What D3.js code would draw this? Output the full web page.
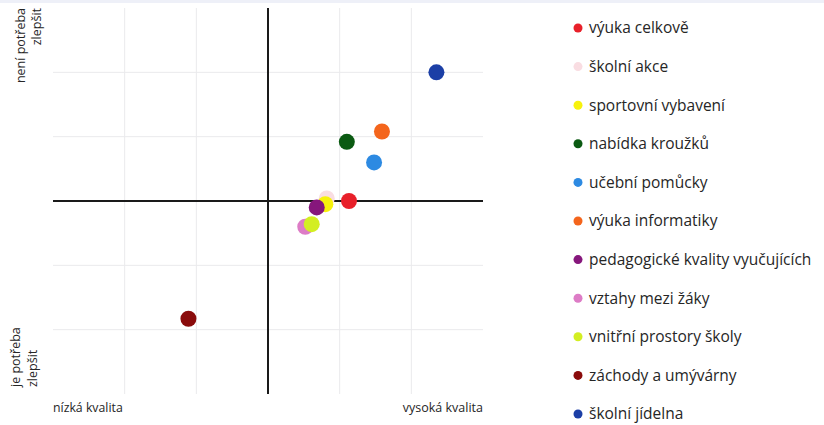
<!DOCTYPE html>
<html>
<head>
<meta charset="utf-8">
<script src="https://cdn.jsdelivr.net/npm/d3@7"></script>
<style>
	body { margin: 0; background: #fff; font-family: "Open Sans", sans-serif; }
	svg text { fill: #262626; }
</style>
</head>
<body>
<div id="chart"></div>
<script>
// data (x = kvalita, y = potřeba zlepšit)
const categories = [
	"výuka celkově",
	"školní akce",
	"sportovní vybavení",
	"nabídka kroužků",
	"učební pomůcky",
	"výuka informatiky",
	"pedagogické kvality vyučujících",
	"vztahy mezi žáky",
	"vnitřní prostory školy",
	"záchody a umývárny",
	"školní jídelna",
];
const xValues = [1.13, 0.82, 0.8, 1.1, 1.48, 1.59, 0.68, 0.52, 0.61, -1.11, 2.35];
const yValues = [0.0, 0.04, -0.05, 0.92, 0.6, 1.08, -0.1, -0.4, -0.36, -1.83, 2.0];
const colors = [
	"#e8202a",
	"#f9dde2",
	"#f7f20c",
	"#0b5a12",
	"#2d8ae2",
	"#f4651c",
	"#86177c",
	"#dd7cc6",
	"#d3ee22",
	"#8a0b0b",
	"#1c3fa6",
];
const gridTicks = [-3, -2, -1, 0, 1, 2, 3];

const width = 824;
const height = 425;

const svg = d3
	.select("#chart")
	.append("svg")
	.attr("width", width)
	.attr("height", height);

// faint tinted strip along the top edge of the scan
svg
	.append("rect")
	.attr("width", width)
	.attr("height", 3)
	.attr("fill", "#eef0f8");

const x = d3.scaleLinear().domain([-3, 3]).range([53, 483]);
const y = d3.scaleLinear().domain([-3, 3]).range([394, 8]);

const inner = gridTicks.filter((d) => d !== 0 && Math.abs(d) < 3);

// grid
svg
	.append("g")
	.selectAll("line")
	.data(inner)
	.enter()
	.append("line")
	.attr("x1", (d) => x(d))
	.attr("x2", (d) => x(d))
	.attr("y1", y(3))
	.attr("y2", y(-3))
	.attr("stroke", "#eaeaec")
	.attr("stroke-width", 1);

svg
	.append("g")
	.selectAll("line")
	.data(inner)
	.enter()
	.append("line")
	.attr("x1", x(-3))
	.attr("x2", x(3))
	.attr("y1", (d) => y(d))
	.attr("y2", (d) => y(d))
	.attr("stroke", "#eaeaec")
	.attr("stroke-width", 1);

// axes through zero
svg
	.append("line")
	.attr("x1", x(-3))
	.attr("x2", x(3))
	.attr("y1", y(0))
	.attr("y2", y(0))
	.attr("stroke", "#1a1a1a")
	.attr("stroke-width", 2);

svg
	.append("line")
	.attr("x1", x(0))
	.attr("x2", x(0))
	.attr("y1", y(3))
	.attr("y2", y(-3))
	.attr("stroke", "#1a1a1a")
	.attr("stroke-width", 2);

// points
const points = categories.map((name, i) => ({
	name,
	x: xValues[i],
	y: yValues[i],
	color: colors[i],
}));

svg
	.append("g")
	.selectAll("circle")
	.data(points)
	.enter()
	.append("circle")
	.attr("cx", (d) => x(d.x))
	.attr("cy", (d) => y(d.y))
	.attr("r", 8)
	.attr("fill", (d) => d.color);

// axis labels
svg
	.append("text")
	.attr("x", x(-3))
	.attr("y", 412)
	.attr("font-size", 12.3)
	.text("nízká kvalita");

svg
	.append("text")
	.attr("x", x(3))
	.attr("y", 412)
	.attr("font-size", 12.5)
	.attr("text-anchor", "end")
	.text("vysoká kvalita");

const topLabel = svg
	.append("text")
	.attr("transform", `translate(0, ${y(3)}) rotate(-90)`)
	.attr("text-anchor", "end")
	.attr("font-size", 12.5);
topLabel.append("tspan").attr("x", 0).attr("y", 25).text("není potřeba");
topLabel.append("tspan").attr("x", 0).attr("y", 41).text("zlepšit");

const bottomLabel = svg
	.append("text")
	.attr("transform", `translate(0, 387) rotate(-90)`)
	.attr("text-anchor", "start")
	.attr("font-size", 12.5);
bottomLabel.append("tspan").attr("x", 0).attr("y", 20).text("je potřeba");
bottomLabel.append("tspan").attr("x", 0).attr("y", 37).text("zlepšit");

// legend
const legend = svg
	.append("g")
	.attr("transform", "translate(578, 28)");

const legendItems = legend
	.selectAll("g")
	.data(points)
	.enter()
	.append("g")
	.attr("transform", (d, i) => `translate(0, ${i * 38.6})`);

legendItems
	.append("circle")
	.attr("r", 4.5)
	.attr("fill", (d) => d.color);

legendItems
	.append("text")
	.attr("x", 11)
	.attr("dy", "0.35em")
	.attr("font-size", 15.5)
	.text((d) => d.name);
</script>
</body>
</html>
